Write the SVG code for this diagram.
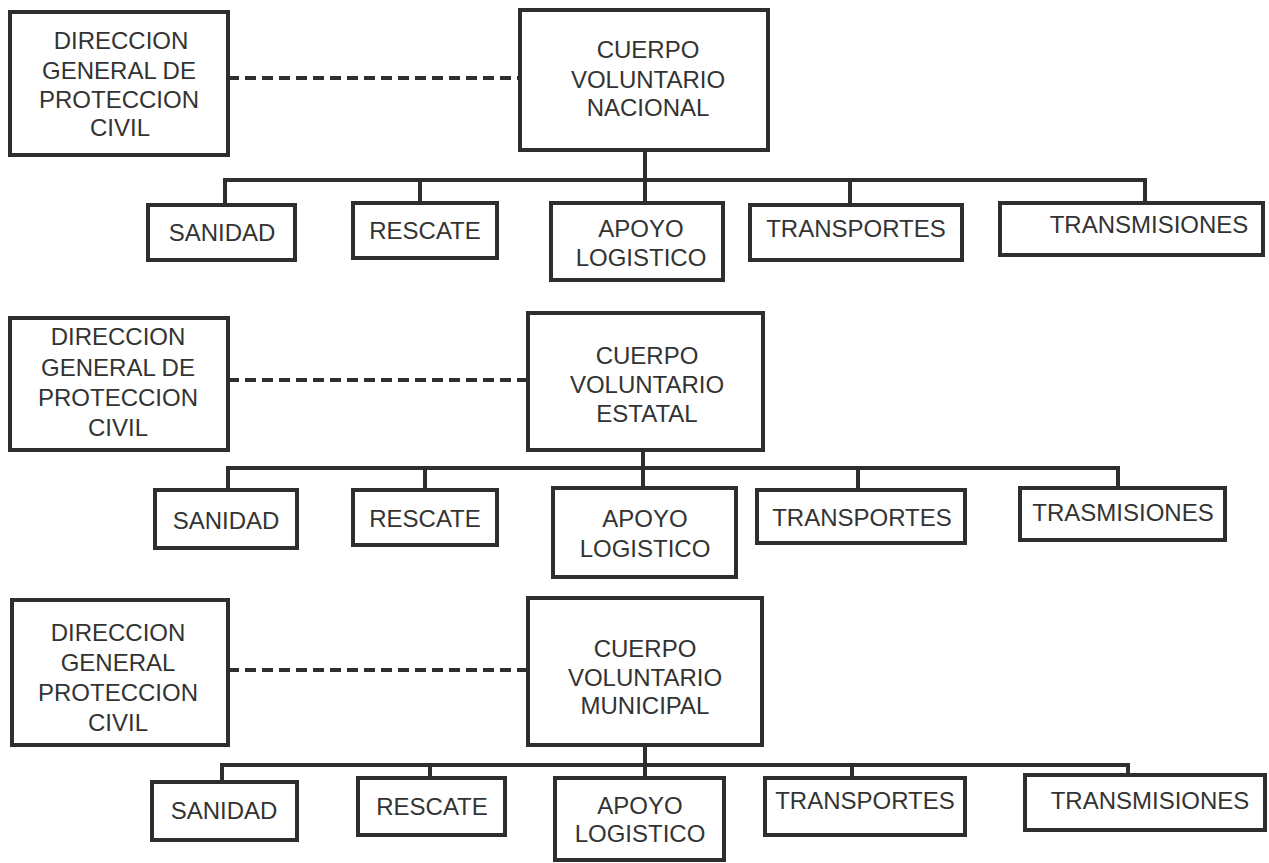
<svg xmlns="http://www.w3.org/2000/svg" width="1269" height="863" viewBox="0 0 1269 863">
<style>
rect.b{fill:#fff;stroke:#2e2e2e;stroke-width:4}
text{font-family:"Liberation Sans",Arial,sans-serif;font-size:24px;fill:#333;text-anchor:middle}
.c{fill:none;stroke:#2e2e2e;stroke-width:4}
.d{fill:none;stroke:#2e2e2e;stroke-width:4;stroke-dasharray:11 6}
</style>
<rect width="1269" height="863" fill="#fff"/>
<g id="connectors">
<path class="d" d="M228 78H520"/>
<path class="c" d="M645 150V180M225 205V180H1145V203M420 180V203M645 180V203M850 180V205"/>
<path class="d" d="M228 380H528"/>
<path class="c" d="M643 450V468M228 490V468H1118V488M425 468V490M643 468V488M858 468V490"/>
<path class="d" d="M228 670H528"/>
<path class="c" d="M645 745V765M222 782V765H1128V775M430 765V778M645 765V778M852 765V778"/>
</g>
<g id="dgpc1"><rect class="b" x="10" y="12" width="218" height="143"/>
<text x="121" y="49">DIRECCION</text><text x="119" y="79">GENERAL DE</text><text x="119" y="108">PROTECCION</text><text x="120" y="136">CIVIL</text></g>
<g id="cvn"><rect class="b" x="520" y="10" width="248" height="140"/>
<text x="648" y="58">CUERPO</text><text x="648" y="88">VOLUNTARIO</text><text x="648" y="116">NACIONAL</text></g>
<g id="san1"><rect class="b" x="148" y="205" width="147" height="55"/><text x="222" y="241">SANIDAD</text></g>
<g id="res1"><rect class="b" x="353" y="203" width="144" height="55"/><text x="425" y="239">RESCATE</text></g>
<g id="apo1"><rect class="b" x="551" y="203" width="172" height="77"/><text x="641" y="237">APOYO</text><text x="641" y="266">LOGISTICO</text></g>
<g id="tra1"><rect class="b" x="750" y="205" width="212" height="55"/><text x="856" y="237">TRANSPORTES</text></g>
<g id="trm1"><rect class="b" x="1000" y="203" width="263" height="52"/><text x="1149" y="233">TRANSMISIONES</text></g>

<g id="dgpc2"><rect class="b" x="10" y="318" width="218" height="132"/>
<text x="118" y="345">DIRECCION</text><text x="118" y="376">GENERAL DE</text><text x="118" y="406">PROTECCION</text><text x="118" y="436">CIVIL</text></g>
<g id="cve"><rect class="b" x="528" y="313" width="235" height="137"/>
<text x="647" y="364">CUERPO</text><text x="647" y="393">VOLUNTARIO</text><text x="647" y="422">ESTATAL</text></g>
<g id="san2"><rect class="b" x="155" y="490" width="142" height="58"/><text x="226" y="529">SANIDAD</text></g>
<g id="res2"><rect class="b" x="353" y="490" width="144" height="55"/><text x="425" y="527">RESCATE</text></g>
<g id="apo2"><rect class="b" x="553" y="488" width="183" height="89"/><text x="645" y="527">APOYO</text><text x="645" y="557">LOGISTICO</text></g>
<g id="tra2"><rect class="b" x="757" y="490" width="208" height="53"/><text x="862" y="526">TRANSPORTES</text></g>
<g id="trm2"><rect class="b" x="1020" y="488" width="205" height="52"/><text x="1123" y="521">TRASMISIONES</text></g>

<g id="dgpc3"><rect class="b" x="12" y="600" width="216" height="145"/>
<text x="118" y="641">DIRECCION</text><text x="118" y="671">GENERAL</text><text x="118" y="701">PROTECCION</text><text x="118" y="731">CIVIL</text></g>
<g id="cvm"><rect class="b" x="528" y="598" width="234" height="147"/>
<text x="645" y="657">CUERPO</text><text x="645" y="686">VOLUNTARIO</text><text x="645" y="714">MUNICIPAL</text></g>
<g id="san3"><rect class="b" x="152" y="782" width="145" height="58"/><text x="224" y="819">SANIDAD</text></g>
<g id="res3"><rect class="b" x="358" y="778" width="147" height="57"/><text x="432" y="815">RESCATE</text></g>
<g id="apo3"><rect class="b" x="555" y="778" width="169" height="82"/><text x="640" y="814">APOYO</text><text x="640" y="842">LOGISTICO</text></g>
<g id="tra3"><rect class="b" x="765" y="778" width="200" height="57"/><text x="865" y="809">TRANSPORTES</text></g>
<g id="trm3"><rect class="b" x="1025" y="775" width="240" height="55"/><text x="1150" y="809">TRANSMISIONES</text></g>
</svg>
